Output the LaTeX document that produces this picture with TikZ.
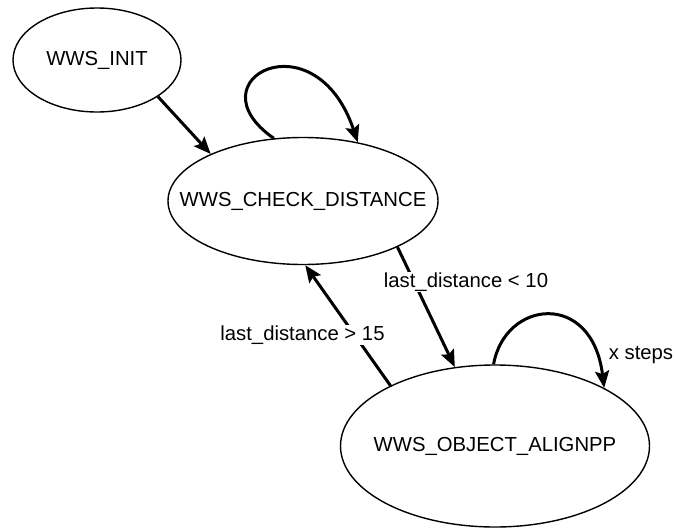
\documentclass[tikz,border=0pt]{standalone}
\usepackage{fontspec}
\setmainfont{Liberation Sans}
\usetikzlibrary{shapes.geometric,arrows.meta}
\begin{document}
\begin{tikzpicture}[x=1pt,y=-1pt,
  state/.style={ellipse,draw,line width=1.4pt,inner sep=0pt,label={[font=\fontsize{20.3}{24}\selectfont,inner sep=0pt]center:#1}},
  trans/.style={line width=3pt,-{Stealth[length=17pt,width=14pt,inset=3pt]}},
  lbl/.style={fill=white,inner sep=1pt,font=\fontsize{20.3}{24}\selectfont}]
\useasboundingbox (0,0) rectangle (675,528);
\node[state={WWS\_INIT},minimum width=168pt,minimum height=104pt] (init) at (97,60) {};
\node[state={WWS\_CHECK\_DISTANCE},minimum width=270pt,minimum height=127pt] (check) at (303,201) {};
\node[state={WWS\_OBJECT\_ALIGNPP},minimum width=309pt,minimum height=162pt] (obj) at (495,446) {};
\draw[trans] (init.-31.7) -- (check.153.9);
\draw[trans] (check.115.8) .. controls (190,80) and (315,15) .. (check.47.5);
\draw[trans] (check.-26.8) -- (obj.117.3);
\draw[trans] (obj.150) -- (check.-88);
\draw[trans] (obj.91.4) .. controls (505,300) and (592,290) .. (obj.28);
\node[lbl] (l10) at (466,282) {last\_distance < 10};
\node[lbl] (l15) at (302.5,335) {last\_distance > 15};
\node[font=\fontsize{20.3}{24}\selectfont,inner sep=0pt] (xs) at (641,355) {x steps};
\end{tikzpicture}
\end{document}
